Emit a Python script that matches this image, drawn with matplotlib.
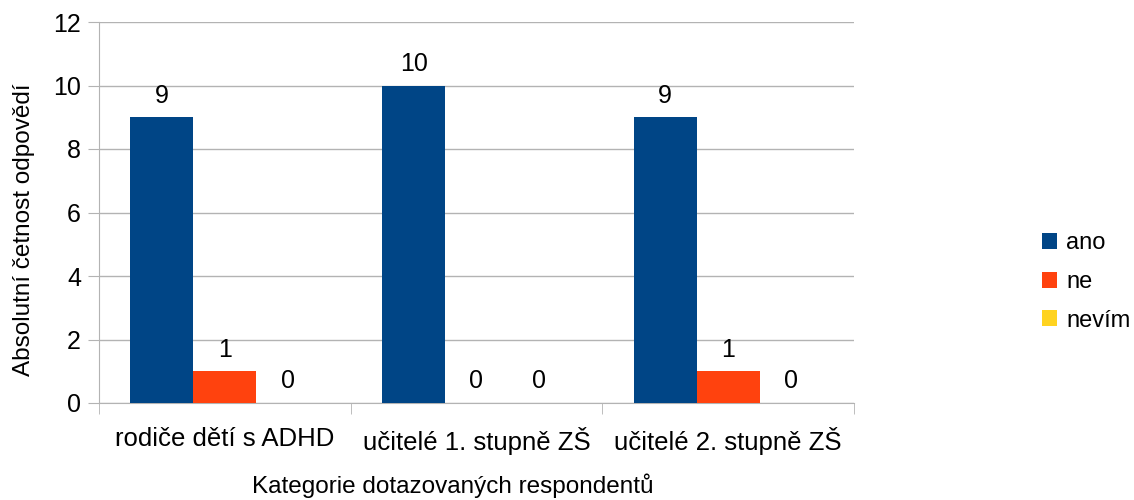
import matplotlib.pyplot as plt
import numpy as np

plt.rcParams["font.family"] = ["Liberation Sans", "DejaVu Sans"]

categories = ["rodiče dětí s ADHD", "učitelé 1. stupně ZŠ", "učitelé 2. stupně ZŠ"]
series_names = ["ano", "ne", "nevím"]
ano = [9, 10, 9]
ne = [1, 0, 1]
nevim = [0, 0, 0]
y_ticks = [0, 2, 4, 6, 8, 10, 12]

COLORS = ["#004586", "#ff420e", "#ffd320"]
GRID = "#b3b3b3"
W, H = 1134, 500

fig = plt.figure(figsize=(W / 100, H / 100), dpi=100)
ax = fig.add_axes([99 / W, 1 - 403 / H, (854 - 99) / W, (403 - 22) / H])

x = np.arange(len(categories))
width = 0.25
for i, (name, vals) in enumerate(zip(series_names, [ano, ne, nevim])):
    pos = x + (i - 1) * width
    ax.bar(pos, vals, width=width, color=COLORS[i], label=name, zorder=3)
    for p, v in zip(pos, vals):
        ax.annotate(str(v), (p, v), xytext=(0, 7), textcoords="offset points",
                    ha="center", va="bottom", fontsize=18)

ax.set_xlim(-0.5, len(categories) - 0.5)
ax.set_ylim(0, 12)
ax.set_yticks(y_ticks)
ax.tick_params(axis="y", labelsize=18, length=8, color=GRID, pad=5)
ax.yaxis.grid(True, color=GRID, linewidth=1, zorder=0)

# category labels centred, tick marks on the category boundaries
ax.set_xticks(x)
ax.set_xticklabels(categories, fontsize=18.5)
ax.tick_params(axis="x", length=0, pad=17)
ax.set_xticks(np.arange(len(categories) + 1) - 0.5, minor=True)
ax.tick_params(axis="x", which="minor", length=8, color=GRID)

for side in ["top", "right"]:
    ax.spines[side].set_visible(False)
for side in ["left", "bottom"]:
    ax.spines[side].set_color(GRID)

fig.text(453 / W, 1 - 486 / H, "Kategorie dotazovaných respondentů",
         fontsize=17.5, ha="center", va="center")
fig.text(24 / W, 1 - 230 / H, "Absolutní četnost odpovědí",
         fontsize=17.5, ha="center", va="center", rotation=90)

fig.legend(loc="center left", bbox_to_anchor=(1042 / W, 1 - 282 / H),
           frameon=False, fontsize=17, handlelength=0.64, handleheight=0.64,
           handletextpad=0.38, labelspacing=0.7, borderpad=0, borderaxespad=0)

fig.savefig("out.png", dpi=100)
